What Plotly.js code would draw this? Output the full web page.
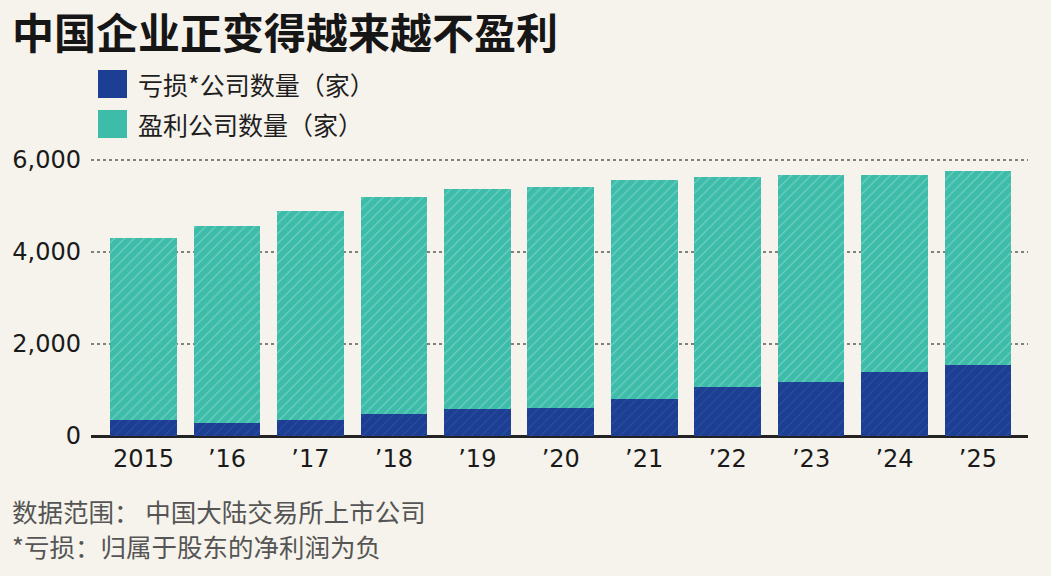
<!DOCTYPE html>
<html>
<head>
<meta charset="utf-8">
<script src="https://cdn.plot.ly/plotly-3.0.1.min.js"></script>
<style>
html,body{margin:0;padding:0;background:#f6f3ec;}
#chart{width:1051px;height:576px;}
</style>
</head>
<body>
<div id="chart"></div>
<script>
// ---- data ----
const years = ['2015','2016','2017','2018','2019','2020','2021','2022','2023','2024','2025'];
const yearLabels = ['2015','’16','’17','’18','’19','’20','’21','’22','’23','’24','’25'];
const lossCompanies = [358, 284, 342, 488, 576, 615, 811, 1064, 1173, 1391, 1553];
const profitCompanies = [3947, 4274, 4544, 4711, 4798, 4789, 4746, 4559, 4508, 4289, 4200];
const yTickVals = [0, 2000, 4000, 6000];
const yTickText = ['0', '2,000', '4,000', '6,000'];
const seriesNames = ['亏损*公司数量（家）', '盈利公司数量（家）'];
const titleText = '中国企业正变得越来越不盈利';
const noteLines = ['数据范围： 中国大陆交易所上市公司', '*亏损：归属于股东的净利润为负'];

// ---- style ----
const NAVY = '#1c3f94';
const TEAL = '#3dbcaa';
const BG = '#f6f3ec';
const W = 1051, H = 576;
const M = {l: 91, r: 23, t: 153, b: 140};
const plotW = W - M.l - M.r, plotH = H - M.t - M.b;
const px2x = p => (p - M.l) / plotW;
const px2y = p => (H - M.b - p) / plotH;

const cjk = '"Noto Sans CJK SC", "Noto Sans", sans-serif';

const traces = [
  {
    type: 'bar', x: years, y: lossCompanies, name: seriesNames[0],
    marker: {color: NAVY, line: {width: 0},
      pattern: {shape: '/', fillmode: 'overlay', fgcolor: '#4a68b4', fgopacity: 0.6, size: 7, solidity: 0.12}},
    hoverinfo: 'x+y+name', showlegend: false
  },
  {
    type: 'bar', x: years, y: profitCompanies, name: seriesNames[1],
    marker: {color: TEAL, line: {width: 0},
      pattern: {shape: '/', fillmode: 'overlay', fgcolor: '#a3e2d6', fgopacity: 0.6, size: 7, solidity: 0.15}},
    hoverinfo: 'x+y+name', showlegend: false
  }
];

const legendSwatches = [NAVY, TEAL];
const legendCenters = [84, 124];

const shapes = legendSwatches.map((c, i) => ({
  type: 'rect', xref: 'paper', yref: 'paper',
  x0: px2x(98), x1: px2x(127),
  y0: px2y(legendCenters[i] + 14), y1: px2y(legendCenters[i] - 14),
  fillcolor: c, line: {width: 0}
}));

const annotations = seriesNames.map((t, i) => ({
  text: t, xref: 'paper', yref: 'paper', x: px2x(136), y: px2y(legendCenters[i]),
  xanchor: 'left', yanchor: 'middle', showarrow: false,
  font: {family: cjk, size: 25, color: '#1e1e1e'}
})).concat(noteLines.map((t, i) => ({
  text: t, xref: 'paper', yref: 'paper', x: px2x(10), y: px2y([510, 545][i]),
  xanchor: 'left', yanchor: 'middle', showarrow: false,
  font: {family: cjk, size: 25.5, color: '#555555'}
})));

const layout = {
  width: W, height: H,
  margin: M,
  paper_bgcolor: BG, plot_bgcolor: BG,
  barmode: 'stack', bargap: 0.2,
  showlegend: false,
  title: {
    text: titleText, xref: 'container', yref: 'container',
    x: 12 / W, xanchor: 'left', y: 1 - 34 / H, yanchor: 'middle',
    font: {family: cjk, size: 42, weight: 'bold', color: '#161616'}
  },
  xaxis: {
    type: 'category', range: [-0.63, 10.6],
    tickvals: years, ticktext: yearLabels,
    showgrid: false, zeroline: false, showline: false, ticks: '',
    ticklabelstandoff: 6,
    tickfont: {family: 'DejaVu Sans, sans-serif', size: 24, color: '#1a1a1a'}
  },
  yaxis: {
    range: [0, 6150], tickvals: yTickVals, ticktext: yTickText,
    showgrid: true, gridcolor: '#808080', gridwidth: 1.5, griddash: 'dot',
    zeroline: true, zerolinecolor: '#222222', zerolinewidth: 3,
    showline: false, ticks: '', ticklabelstandoff: 9,
    tickfont: {family: 'DejaVu Sans, sans-serif', size: 24, color: '#1a1a1a'}
  },
  shapes: shapes,
  annotations: annotations
};

Plotly.newPlot('chart', traces, layout, {displayModeBar: false, staticPlot: true});
</script>
</body>
</html>
